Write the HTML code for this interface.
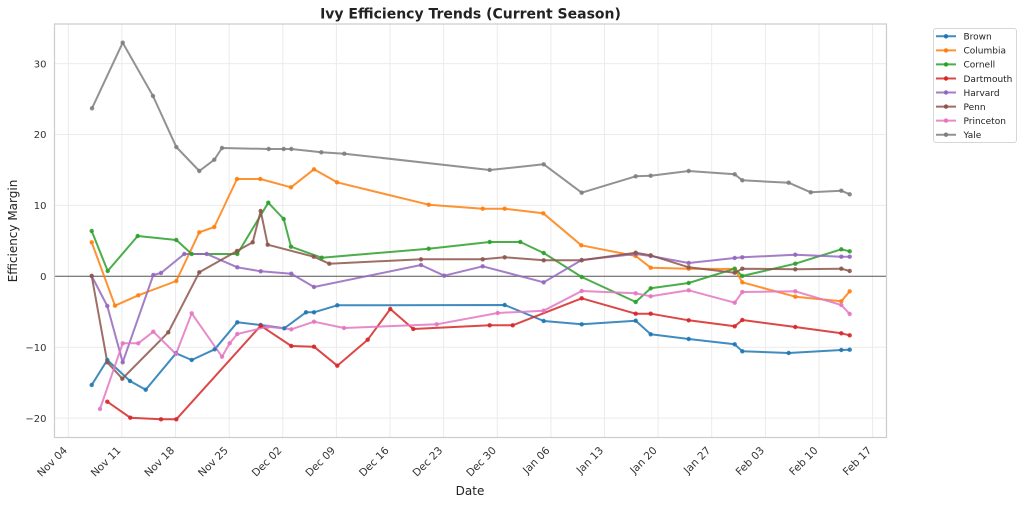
<!DOCTYPE html>
<html><head><meta charset="utf-8"><style>
html,body{margin:0;padding:0;background:#fff;}
svg{display:block;font-family:"DejaVu Sans","Liberation Sans",sans-serif;}
</style></head><body>
<svg width="1024" height="505" viewBox="0 0 1024 505" xmlns="http://www.w3.org/2000/svg">
<rect width="1024" height="505" fill="#fff"/>
<!-- grid -->
<g stroke="#ebebeb" stroke-width="1" fill="none">
<line x1="54.5" x2="886.5" y1="63.6" y2="63.6"/>
<line x1="54.5" x2="886.5" y1="134.5" y2="134.5"/>
<line x1="54.5" x2="886.5" y1="205.4" y2="205.4"/>
<line x1="54.5" x2="886.5" y1="347.2" y2="347.2"/>
<line x1="54.5" x2="886.5" y1="418.1" y2="418.1"/>
<line x1="68.3" x2="68.3" y1="24" y2="437.5"/>
<line x1="121.9" x2="121.9" y1="24" y2="437.5"/>
<line x1="175.5" x2="175.5" y1="24" y2="437.5"/>
<line x1="229.2" x2="229.2" y1="24" y2="437.5"/>
<line x1="282.8" x2="282.8" y1="24" y2="437.5"/>
<line x1="336.4" x2="336.4" y1="24" y2="437.5"/>
<line x1="390.0" x2="390.0" y1="24" y2="437.5"/>
<line x1="443.6" x2="443.6" y1="24" y2="437.5"/>
<line x1="497.3" x2="497.3" y1="24" y2="437.5"/>
<line x1="550.9" x2="550.9" y1="24" y2="437.5"/>
<line x1="604.5" x2="604.5" y1="24" y2="437.5"/>
<line x1="658.1" x2="658.1" y1="24" y2="437.5"/>
<line x1="711.7" x2="711.7" y1="24" y2="437.5"/>
<line x1="765.4" x2="765.4" y1="24" y2="437.5"/>
<line x1="819.0" x2="819.0" y1="24" y2="437.5"/>
<line x1="872.6" x2="872.6" y1="24" y2="437.5"/>
</g>
<!-- zero line -->
<line x1="54.5" x2="886.5" y1="276.3" y2="276.3" stroke="#555" stroke-width="1"/>
<!-- spines -->
<rect x="54.5" y="24" width="832" height="413.5" fill="none" stroke="#cccccc" stroke-width="1.2"/>

<!-- series -->
<g fill="none" stroke-width="2" stroke-linejoin="round" stroke-opacity="0.85">
<polyline stroke="#1f77b4" points="91.7,385 107.3,360 130,381 145.7,389.7 176,353.3 191.7,360 214.7,349.3 237.3,322.3 260.7,325 284.3,328.3 306,312.3 314,312.3 337.3,305.3 504.7,305 543.7,321 581.7,324.3 635.7,320.7 650.7,334.3 688.7,339 734.7,344.3 742.3,351.3 788.7,353 841.3,350 849.7,349.7"/>
<polyline stroke="#ff7f0e" points="91.7,242.3 115,305.7 138.3,295.3 176.3,281 199.3,232.3 214.3,227 237,179 260.3,179 291,187.3 314,169.3 337,182.3 428.7,204.7 482.7,208.7 504.7,208.7 543.3,213.3 581.3,245.3 635.7,256 650.7,267.7 688.7,268.7 734.7,269 742.3,282.3 795.3,296.7 841.3,301.3 849.7,291.3"/>
<polyline stroke="#2ca02c" points="91.7,231 107.7,271 137.7,236 176.3,240 191.7,254 237.3,254 268.3,202.7 283.7,219 291,246.7 321.7,257.7 428.7,248.7 489.7,242 520.3,242 543.7,253 581.7,277 635.7,302 650.7,288.3 688.7,283 734.7,268.7 742.3,276 795.3,263.7 841.3,249.3 849.7,251.3"/>
<polyline stroke="#d62728" points="107.3,401.7 130.3,417.7 161,419.3 176.3,419.3 260.7,325.7 291.3,346 314,346.7 337.3,365.7 367.7,339.7 390.3,309 413.3,329 489.7,325.3 512.7,325.3 581.7,298.3 635.7,313.7 650.7,313.7 688.7,320.3 734.7,326.3 742.3,320 795.3,327 841.3,333.3 849.7,335.3"/>
<polyline stroke="#9467bd" points="91.7,276 107.3,306 122.7,362.3 153.3,275 161,273 184.3,254 206.7,254 237.3,267.3 260.7,271.3 291.3,273.7 314,287 421,265 444.3,275.7 482.7,266.3 543.7,282.3 581.7,260 635.7,254 650.7,256 688.7,263 734.7,258 742.3,257.3 795.3,254.7 841.3,256.7 849.7,256.7"/>
<polyline stroke="#8c564b" points="91.7,276 107.3,362.3 122.3,378.7 168.3,332.3 199.3,272.3 237,251 252.7,242.3 260.7,211 267.7,244.7 313.7,256.7 329.3,263.7 421,259.3 482.7,259.3 504.7,257.3 543.7,260.3 581.7,260.3 635.7,252.7 650.7,255.3 688.7,267.3 734.7,272.7 742.3,268.7 795.3,269.3 841.3,268.7 849.7,271"/>
<polyline stroke="#e377c2" points="100,409 122.7,343.3 138.3,343.3 153.3,331.7 176,354 191.7,313.3 222,356.7 229.7,343.3 237.3,334 267.7,326.7 291.3,329.3 314,321.7 344,328 436.7,324.3 497.7,313 543.7,310.7 581.7,291 635.7,293.3 650.7,296.3 688.7,290.3 734.7,302.7 742.3,292 795.3,291.3 841.3,305 849.7,314"/>
<polyline stroke="#7f7f7f" points="92,108.3 122.7,42.7 153,96 176.3,147 199.3,171 214.3,159.7 222,148 268.7,149 283.7,149 291.3,149 321.3,152.3 344.3,153.7 489.7,170 543.7,164.3 581.7,192.7 635.7,176.3 650.7,175.7 688.7,171 734.7,174.3 742.3,180.3 788.7,182.7 810.7,192.3 841.3,190.7 849.7,194.3"/>
</g>

<!-- markers -->
<g fill-opacity="0.9">
<g fill="#1f77b4">
<circle cx="91.7" cy="385" r="2.2"/><circle cx="107.3" cy="360" r="2.2"/><circle cx="130" cy="381" r="2.2"/><circle cx="145.7" cy="389.7" r="2.2"/><circle cx="176" cy="353.3" r="2.2"/><circle cx="191.7" cy="360" r="2.2"/><circle cx="214.7" cy="349.3" r="2.2"/><circle cx="237.3" cy="322.3" r="2.2"/><circle cx="260.7" cy="325" r="2.2"/><circle cx="284.3" cy="328.3" r="2.2"/><circle cx="306" cy="312.3" r="2.2"/><circle cx="314" cy="312.3" r="2.2"/><circle cx="337.3" cy="305.3" r="2.2"/><circle cx="504.7" cy="305" r="2.2"/><circle cx="543.7" cy="321" r="2.2"/><circle cx="581.7" cy="324.3" r="2.2"/><circle cx="635.7" cy="320.7" r="2.2"/><circle cx="650.7" cy="334.3" r="2.2"/><circle cx="688.7" cy="339" r="2.2"/><circle cx="734.7" cy="344.3" r="2.2"/><circle cx="742.3" cy="351.3" r="2.2"/><circle cx="788.7" cy="353" r="2.2"/><circle cx="841.3" cy="350" r="2.2"/><circle cx="849.7" cy="349.7" r="2.2"/>
</g>
<g fill="#ff7f0e">
<circle cx="91.7" cy="242.3" r="2.2"/><circle cx="115" cy="305.7" r="2.2"/><circle cx="138.3" cy="295.3" r="2.2"/><circle cx="176.3" cy="281" r="2.2"/><circle cx="199.3" cy="232.3" r="2.2"/><circle cx="214.3" cy="227" r="2.2"/><circle cx="237" cy="179" r="2.2"/><circle cx="260.3" cy="179" r="2.2"/><circle cx="291" cy="187.3" r="2.2"/><circle cx="314" cy="169.3" r="2.2"/><circle cx="337" cy="182.3" r="2.2"/><circle cx="428.7" cy="204.7" r="2.2"/><circle cx="482.7" cy="208.7" r="2.2"/><circle cx="504.7" cy="208.7" r="2.2"/><circle cx="543.3" cy="213.3" r="2.2"/><circle cx="581.3" cy="245.3" r="2.2"/><circle cx="635.7" cy="256" r="2.2"/><circle cx="650.7" cy="267.7" r="2.2"/><circle cx="688.7" cy="268.7" r="2.2"/><circle cx="734.7" cy="269" r="2.2"/><circle cx="742.3" cy="282.3" r="2.2"/><circle cx="795.3" cy="296.7" r="2.2"/><circle cx="841.3" cy="301.3" r="2.2"/><circle cx="849.7" cy="291.3" r="2.2"/>
</g>
<g fill="#2ca02c">
<circle cx="91.7" cy="231" r="2.2"/><circle cx="107.7" cy="271" r="2.2"/><circle cx="137.7" cy="236" r="2.2"/><circle cx="176.3" cy="240" r="2.2"/><circle cx="191.7" cy="254" r="2.2"/><circle cx="237.3" cy="254" r="2.2"/><circle cx="268.3" cy="202.7" r="2.2"/><circle cx="283.7" cy="219" r="2.2"/><circle cx="291" cy="246.7" r="2.2"/><circle cx="321.7" cy="257.7" r="2.2"/><circle cx="428.7" cy="248.7" r="2.2"/><circle cx="489.7" cy="242" r="2.2"/><circle cx="520.3" cy="242" r="2.2"/><circle cx="543.7" cy="253" r="2.2"/><circle cx="581.7" cy="277" r="2.2"/><circle cx="635.7" cy="302" r="2.2"/><circle cx="650.7" cy="288.3" r="2.2"/><circle cx="688.7" cy="283" r="2.2"/><circle cx="734.7" cy="268.7" r="2.2"/><circle cx="742.3" cy="276" r="2.2"/><circle cx="795.3" cy="263.7" r="2.2"/><circle cx="841.3" cy="249.3" r="2.2"/><circle cx="849.7" cy="251.3" r="2.2"/>
</g>
<g fill="#d62728">
<circle cx="107.3" cy="401.7" r="2.2"/><circle cx="130.3" cy="417.7" r="2.2"/><circle cx="161" cy="419.3" r="2.2"/><circle cx="176.3" cy="419.3" r="2.2"/><circle cx="260.7" cy="325.7" r="2.2"/><circle cx="291.3" cy="346" r="2.2"/><circle cx="314" cy="346.7" r="2.2"/><circle cx="337.3" cy="365.7" r="2.2"/><circle cx="367.7" cy="339.7" r="2.2"/><circle cx="390.3" cy="309" r="2.2"/><circle cx="413.3" cy="329" r="2.2"/><circle cx="489.7" cy="325.3" r="2.2"/><circle cx="512.7" cy="325.3" r="2.2"/><circle cx="581.7" cy="298.3" r="2.2"/><circle cx="635.7" cy="313.7" r="2.2"/><circle cx="650.7" cy="313.7" r="2.2"/><circle cx="688.7" cy="320.3" r="2.2"/><circle cx="734.7" cy="326.3" r="2.2"/><circle cx="742.3" cy="320" r="2.2"/><circle cx="795.3" cy="327" r="2.2"/><circle cx="841.3" cy="333.3" r="2.2"/><circle cx="849.7" cy="335.3" r="2.2"/>
</g>
<g fill="#9467bd">
<circle cx="91.7" cy="276" r="2.2"/><circle cx="107.3" cy="306" r="2.2"/><circle cx="122.7" cy="362.3" r="2.2"/><circle cx="153.3" cy="275" r="2.2"/><circle cx="161" cy="273" r="2.2"/><circle cx="184.3" cy="254" r="2.2"/><circle cx="206.7" cy="254" r="2.2"/><circle cx="237.3" cy="267.3" r="2.2"/><circle cx="260.7" cy="271.3" r="2.2"/><circle cx="291.3" cy="273.7" r="2.2"/><circle cx="314" cy="287" r="2.2"/><circle cx="421" cy="265" r="2.2"/><circle cx="444.3" cy="275.7" r="2.2"/><circle cx="482.7" cy="266.3" r="2.2"/><circle cx="543.7" cy="282.3" r="2.2"/><circle cx="581.7" cy="260" r="2.2"/><circle cx="635.7" cy="254" r="2.2"/><circle cx="650.7" cy="256" r="2.2"/><circle cx="688.7" cy="263" r="2.2"/><circle cx="734.7" cy="258" r="2.2"/><circle cx="742.3" cy="257.3" r="2.2"/><circle cx="795.3" cy="254.7" r="2.2"/><circle cx="841.3" cy="256.7" r="2.2"/><circle cx="849.7" cy="256.7" r="2.2"/>
</g>
<g fill="#8c564b">
<circle cx="91.7" cy="276" r="2.2"/><circle cx="107.3" cy="362.3" r="2.2"/><circle cx="122.3" cy="378.7" r="2.2"/><circle cx="168.3" cy="332.3" r="2.2"/><circle cx="199.3" cy="272.3" r="2.2"/><circle cx="237" cy="251" r="2.2"/><circle cx="252.7" cy="242.3" r="2.2"/><circle cx="260.7" cy="211" r="2.2"/><circle cx="267.7" cy="244.7" r="2.2"/><circle cx="313.7" cy="256.7" r="2.2"/><circle cx="329.3" cy="263.7" r="2.2"/><circle cx="421" cy="259.3" r="2.2"/><circle cx="482.7" cy="259.3" r="2.2"/><circle cx="504.7" cy="257.3" r="2.2"/><circle cx="543.7" cy="260.3" r="2.2"/><circle cx="581.7" cy="260.3" r="2.2"/><circle cx="635.7" cy="252.7" r="2.2"/><circle cx="650.7" cy="255.3" r="2.2"/><circle cx="688.7" cy="267.3" r="2.2"/><circle cx="734.7" cy="272.7" r="2.2"/><circle cx="742.3" cy="268.7" r="2.2"/><circle cx="795.3" cy="269.3" r="2.2"/><circle cx="841.3" cy="268.7" r="2.2"/><circle cx="849.7" cy="271" r="2.2"/>
</g>
<g fill="#e377c2">
<circle cx="100" cy="409" r="2.2"/><circle cx="122.7" cy="343.3" r="2.2"/><circle cx="138.3" cy="343.3" r="2.2"/><circle cx="153.3" cy="331.7" r="2.2"/><circle cx="176" cy="354" r="2.2"/><circle cx="191.7" cy="313.3" r="2.2"/><circle cx="222" cy="356.7" r="2.2"/><circle cx="229.7" cy="343.3" r="2.2"/><circle cx="237.3" cy="334" r="2.2"/><circle cx="267.7" cy="326.7" r="2.2"/><circle cx="291.3" cy="329.3" r="2.2"/><circle cx="314" cy="321.7" r="2.2"/><circle cx="344" cy="328" r="2.2"/><circle cx="436.7" cy="324.3" r="2.2"/><circle cx="497.7" cy="313" r="2.2"/><circle cx="543.7" cy="310.7" r="2.2"/><circle cx="581.7" cy="291" r="2.2"/><circle cx="635.7" cy="293.3" r="2.2"/><circle cx="650.7" cy="296.3" r="2.2"/><circle cx="688.7" cy="290.3" r="2.2"/><circle cx="734.7" cy="302.7" r="2.2"/><circle cx="742.3" cy="292" r="2.2"/><circle cx="795.3" cy="291.3" r="2.2"/><circle cx="841.3" cy="305" r="2.2"/><circle cx="849.7" cy="314" r="2.2"/>
</g>
<g fill="#7f7f7f">
<circle cx="92" cy="108.3" r="2.2"/><circle cx="122.7" cy="42.7" r="2.2"/><circle cx="153" cy="96" r="2.2"/><circle cx="176.3" cy="147" r="2.2"/><circle cx="199.3" cy="171" r="2.2"/><circle cx="214.3" cy="159.7" r="2.2"/><circle cx="222" cy="148" r="2.2"/><circle cx="268.7" cy="149" r="2.2"/><circle cx="283.7" cy="149" r="2.2"/><circle cx="291.3" cy="149" r="2.2"/><circle cx="321.3" cy="152.3" r="2.2"/><circle cx="344.3" cy="153.7" r="2.2"/><circle cx="489.7" cy="170" r="2.2"/><circle cx="543.7" cy="164.3" r="2.2"/><circle cx="581.7" cy="192.7" r="2.2"/><circle cx="635.7" cy="176.3" r="2.2"/><circle cx="650.7" cy="175.7" r="2.2"/><circle cx="688.7" cy="171" r="2.2"/><circle cx="734.7" cy="174.3" r="2.2"/><circle cx="742.3" cy="180.3" r="2.2"/><circle cx="788.7" cy="182.7" r="2.2"/><circle cx="810.7" cy="192.3" r="2.2"/><circle cx="841.3" cy="190.7" r="2.2"/><circle cx="849.7" cy="194.3" r="2.2"/>
</g>
</g>

<!-- y tick labels -->
<g font-size="10" fill="#333" text-anchor="end">
<text x="46.5" y="67.3">30</text>
<text x="46.5" y="138.2">20</text>
<text x="46.5" y="209.1">10</text>
<text x="46.5" y="280">0</text>
<text x="46.5" y="350.9">−10</text>
<text x="46.5" y="421.8">−20</text>
</g>

<!-- x tick labels -->
<g font-size="10.5" fill="#333" text-anchor="end">
<text transform="translate(67.8,451) rotate(-45)">Nov 04</text>
<text transform="translate(121.4,451) rotate(-45)">Nov 11</text>
<text transform="translate(175.0,451) rotate(-45)">Nov 18</text>
<text transform="translate(228.7,451) rotate(-45)">Nov 25</text>
<text transform="translate(282.3,451) rotate(-45)">Dec 02</text>
<text transform="translate(335.9,451) rotate(-45)">Dec 09</text>
<text transform="translate(389.5,451) rotate(-45)">Dec 16</text>
<text transform="translate(443.1,451) rotate(-45)">Dec 23</text>
<text transform="translate(496.8,451) rotate(-45)">Dec 30</text>
<text transform="translate(550.4,451) rotate(-45)">Jan 06</text>
<text transform="translate(604.0,451) rotate(-45)">Jan 13</text>
<text transform="translate(657.6,451) rotate(-45)">Jan 20</text>
<text transform="translate(711.2,451) rotate(-45)">Jan 27</text>
<text transform="translate(764.9,451) rotate(-45)">Feb 03</text>
<text transform="translate(818.5,451) rotate(-45)">Feb 10</text>
<text transform="translate(872.1,451) rotate(-45)">Feb 17</text>
</g>

<!-- axis labels -->
<text x="470" y="495" font-size="12" fill="#222" text-anchor="middle">Date</text>
<text transform="translate(17,231) rotate(-90)" font-size="12" fill="#222" text-anchor="middle">Efficiency Margin</text>

<!-- title -->
<text x="470.5" y="18.5" font-size="14" font-weight="bold" fill="#222" text-anchor="middle">Ivy Efficiency Trends (Current Season)</text>

<!-- legend -->
<rect x="933.5" y="28.5" width="83" height="114" rx="2.5" ry="2.5" fill="#fff" fill-opacity="0.8" stroke="#d6d6d6" stroke-width="1"/>
<g stroke-width="2" stroke-opacity="0.85">
<line x1="936" x2="956" y1="36.3" y2="36.3" stroke="#1f77b4"/>
<line x1="936" x2="956" y1="50.4" y2="50.4" stroke="#ff7f0e"/>
<line x1="936" x2="956" y1="64.4" y2="64.4" stroke="#2ca02c"/>
<line x1="936" x2="956" y1="78.5" y2="78.5" stroke="#d62728"/>
<line x1="936" x2="956" y1="92.5" y2="92.5" stroke="#9467bd"/>
<line x1="936" x2="956" y1="106.6" y2="106.6" stroke="#8c564b"/>
<line x1="936" x2="956" y1="120.6" y2="120.6" stroke="#e377c2"/>
<line x1="936" x2="956" y1="134.7" y2="134.7" stroke="#7f7f7f"/>
</g>
<g>
<circle cx="946" cy="36.3" r="2.2" fill="#1f77b4"/>
<circle cx="946" cy="50.4" r="2.2" fill="#ff7f0e"/>
<circle cx="946" cy="64.4" r="2.2" fill="#2ca02c"/>
<circle cx="946" cy="78.5" r="2.2" fill="#d62728"/>
<circle cx="946" cy="92.5" r="2.2" fill="#9467bd"/>
<circle cx="946" cy="106.6" r="2.2" fill="#8c564b"/>
<circle cx="946" cy="120.6" r="2.2" fill="#e377c2"/>
<circle cx="946" cy="134.7" r="2.2" fill="#7f7f7f"/>
</g>
<g font-size="9" fill="#222">
<text x="963.5" y="39.6">Brown</text>
<text x="963.5" y="53.7">Columbia</text>
<text x="963.5" y="67.7">Cornell</text>
<text x="963.5" y="81.8">Dartmouth</text>
<text x="963.5" y="95.8">Harvard</text>
<text x="963.5" y="109.9">Penn</text>
<text x="963.5" y="123.9">Princeton</text>
<text x="963.5" y="138.0">Yale</text>
</g>
</svg>
</body></html>
